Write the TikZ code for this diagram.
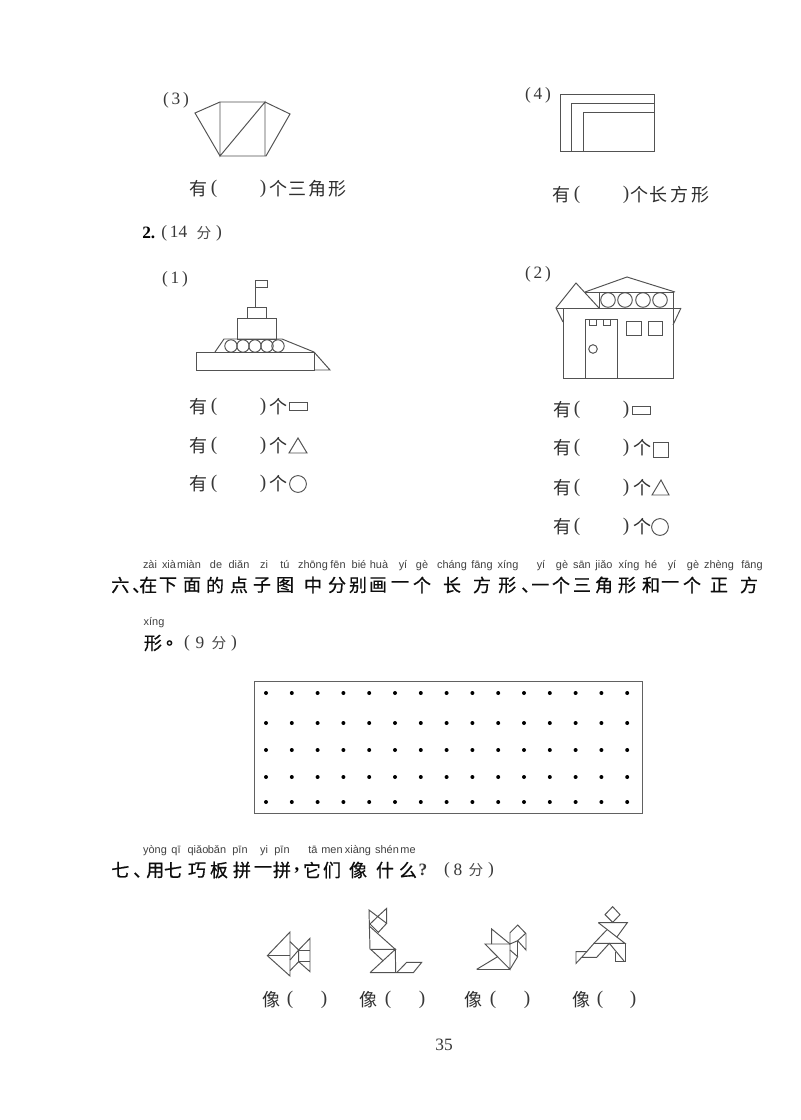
\documentclass[tikz,border=0pt]{standalone}
\usepackage{fontspec}
\setmainfont{Liberation Serif}
\newfontfamily\cjk{Noto Sans CJK SC}
\newfontfamily\cjkh[FakeBold=0.6]{Noto Sans CJK SC}
\newfontfamily\pyfont{Liberation Sans}
\tikzset{
  ln/.style={draw=black!68,line width=0.72pt,line join=miter},
  lab/.style={inner sep=0pt,text=black!82,font=\cjk\fontsize{13.5pt}{15pt}\selectfont},
  sm/.style={inner sep=0pt,text=black!70,font=\cjk\fontsize{11pt}{13pt}\selectfont},
  num/.style={inner sep=0pt,text=black!78,font=\fontsize{13pt}{15pt}\selectfont},
  par/.style={inner sep=0pt,text=black!78,font=\fontsize{14.5pt}{16pt}\selectfont},
  hd/.style={inner sep=0pt,text=black!95,font=\cjkh\fontsize{13.5pt}{15pt}\selectfont},
  py/.style={inner sep=0pt,text height=6pt,text depth=2pt,text=black!75,font=\pyfont\fontsize{8.2pt}{9pt}\selectfont},
  dotpt/.style={fill=black,draw=none}
}
% a row "有( )..." : name, x of 有, x of (, x of ), y
\newcommand{\youline}[5]{%
  \node[lab] (#1a) at (#2,#5) {有};
  \node[par] (#1b) at (#3,#5) {(};
  \node[par] (#1c) at (#4,#5) {)};
}
\begin{document}
\begin{tikzpicture}[x=0.75pt,y=-0.75pt]
\useasboundingbox (0,0) rectangle (800,1120);
\fill[white] (0,0) rectangle (800,1120);

% ---- figure (3)
\node[num] (l3) at (176,100) {(\,3\,)};
\draw[ln] (195,113) -- (220,102) -- (265,102) -- (290,114) -- (266,156) -- (220,156) -- cycle;
\draw[ln] (220,102) -- (220,156) -- (265,102) -- (265,156);
\youline{r3}{198}{214}{263}{189}
\foreach \x/\c [count=\i] in {278/个,297/三,317/角,337/形} \node[lab] (r3t\i) at (\x,189) {\c};

% ---- figure (4)
\node[num] (l4) at (538,95) {(\,4\,)};
\draw[ln] (560,94) rectangle (654,151);
\draw[ln] (571,151) -- (571,103) -- (654,103);
\draw[ln] (583,151) -- (583,112) -- (654,112);
\youline{r4}{561}{577}{626}{195}
\foreach \x/\c [count=\i] in {639/个,658/长,679/方,700/形} \node[lab] (r4t\i) at (\x,195) {\c};

% ---- 2.
\node[inner sep=0pt,text=black,font=\bfseries\fontsize{13pt}{15pt}\selectfont,anchor=west] (q2) at (142,233) {2.};
\node[num,anchor=west] (q2b) at (161,233) {(\,14};
\node[sm] (q2c) at (204,233) {分};
\node[num] (q2d) at (219,233) {)};

% ---- ship (1)
\node[num] (l1) at (175,279) {(\,1\,)};
\draw[ln] (196,352) rectangle (314,370);
\draw[ln] (314,352) -- (330,370) -- (314,370);
\draw[ln] (215,352) -- (224,339) -- (282,339) -- (314,352);
\draw[ln] (237,339) rectangle (276,318);
\draw[ln] (247,318) rectangle (266,307);
\draw[ln] (255,307) -- (255,280) -- (267,280) -- (267,287) -- (255,287);
\foreach \x in {231,243,255,267,278} \draw[ln] (\x,346) circle (6.2);
\foreach \y/\n in {407/a,446/b,484/c}{
  \youline{s\n}{198}{214}{263}{\y}
  \node[lab] (s\n g) at (278,\y) {个};
}
\draw[ln] (289,402) rectangle (307,410);
\draw[ln] (289,453) -- (307,453) -- (298,438) -- cycle;
\draw[ln] (298,484) circle (8.4);

% ---- house (2)
\node[num] (l2) at (538,274) {(\,2\,)};
\draw[ln] (563,308) rectangle (673,378);
\draw[ln] (556,308) -- (681,308);
\draw[ln] (563,322) -- (556,308) -- (576,283) -- (599,308);
\draw[ln] (673,325) -- (681,308);
\draw[ln] (585,292) -- (627,277) -- (675,292);
\draw[ln] (585,292) -- (673,292) -- (673,308);
\draw[ln] (599,292) -- (599,308);
\foreach \x in {608,625,643,660} \draw[ln] (\x,300) circle (7.3);
\draw[ln] (585,378) -- (585,319) -- (617,319) -- (617,378);
\draw[ln] (589,319) rectangle (596,325);
\draw[ln] (603,319) rectangle (610,325);
\draw[ln] (593,349) circle (4.3);
\draw[ln] (626,321) rectangle (641,335);
\draw[ln] (648,321) rectangle (662,335);
\youline{ha}{562}{577}{626}{410}
\foreach \y/\n in {448/b,488/c,527/d}{
  \youline{h\n}{562}{577}{626}{\y}
  \node[lab] (h\n g) at (642,\y) {个};
}
\draw[ln] (632,406) rectangle (650,414);
\draw[ln] (653,442) rectangle (668,457);
\draw[ln] (652,495) -- (669,495) -- (661,480) -- cycle;
\draw[ln] (660,527) circle (8.4);

% ---- section 6
\node[hd,anchor=west] (sixa) at (111,585) {六\kern2.25pt 、\kern-8.25pt 在};
\node[hd,anchor=west] (sixb) at (498,585) {形\kern3.75pt 、\kern-6pt 一};
\foreach \x/\c [count=\i] in {168/下,192/面,215/的,239/点,262/子,285/图,313/中,337/分,358/别,378/画,400/一,422/个,452/长,482/方,561/个,582/三,604/角,627/形,651/和,670/一,692/个,719/正,749/方}
  \node[hd] (six\i) at (\x,585) {\c};
\foreach \x/\c [count=\i] in {150/zài,169/xià,189/miàn,216/de,239/diǎn,264/zi,285/tú,313/zhōng,338/fēn,359/bié,379/huà,403/yí,422/gè,452/cháng,482/fāng,508/xíng,541/yí,562/gè,582/sān,604/jiǎo,629/xíng,651/hé,672/yí,693/gè,719/zhèng,752/fāng}
  \node[py] (sixp\i) at (\x,565.5) {\c};
\node[py] (sixq) at (154,623) {xíng};
\node[hd] (sixc) at (153,643) {形};
\node[hd] (sixd) at (175,643) {。};
\node[num] (sixe) at (187,643) {(};
\node[num] (sixh) at (200,643) {9};
\node[sm] (sixf) at (219,643) {分};
\node[num] (sixg) at (234,643) {)};

% ---- dot grid
\draw[draw=black!62,line width=0.7pt] (254,681) rectangle (642,813);
\foreach \y in {693,723,750,777,802}
  \foreach \i in {0,...,14}
    \fill[dotpt] ({266+25.8*\i},\y) circle (2);

% ---- section 7
\node[hd,anchor=west] (seva) at (111,870) {七\kern3pt 、\kern-3.75pt 用};
\foreach \x/\c [count=\i] in {173/七,197/巧,219/板,242/拼,263/一,282/拼,312/它,332/们,358/像,385/什,408/么}
  \node[hd] (sev\i) at (\x,870) {\c};
\node[inner sep=0pt,text=black,font=\bfseries\fontsize{14pt}{15pt}\selectfont] (sevb) at (297,871) {,};
\node[num,font=\bfseries\fontsize{13pt}{15pt}\selectfont] (sevc) at (423,870) {?};
\node[num] (sevd) at (447,870) {(};
\node[num] (sevg) at (458,870) {8};
\node[sm] (seve) at (476,870) {分};
\node[num] (sevf) at (491,870) {)};
\foreach \x/\c [count=\i] in {155/yòng,176/qī,198/qiǎo,217/bǎn,240/pīn,264/yi,282/pīn,313/tā,332/men,358/xiàng,387/shén,408/me}
  \node[py] (sevp\i) at (\x,850.5) {\c};

% ---- tangram fish and fox
\begin{scope}[shift={(250,900)},scale=1/3]
\draw[ln] (52,167) -- (120,96) -- (120,228) -- cycle;
\draw[ln] (52,167) -- (120,167);
\draw[ln] (120,125) -- (146,150) -- (120,180);
\draw[ln] (120,212) -- (146,185) -- (180,215) -- (180,115) -- (146,150) -- (146,185);
\draw[ln] (146,150) -- (180,150);
\draw[ln] (146,185) -- (180,185);
% fox
\draw[ln] (360,148) -- (357,30) -- (410,70) -- (385,97) -- (360,72) -- (385,48) -- (410,25) -- (410,70);
\draw[ln] (360,80) -- (436,148) -- (362,148) -- (400,183);
\draw[ln] (360,218) -- (436,148) -- (437,218);
\draw[ln] (360,218) -- (440,218) -- (470,187) -- (515,187) -- (490,218) -- cycle;
\end{scope}
% ---- bird and runner
\begin{scope}[shift={(450,900)},scale=1/3]
\draw[ln] (125,132) -- (125,87) -- (180,132);
\draw[ln] (105,132) -- (180,132) -- (180,208) -- cycle;
\draw[ln] (80,208) -- (180,208);
\draw[ln] (80,208) -- (143,170);
\draw[ln] (180,150) -- (203,170) -- (180,208);
\draw[ln] (203,170) -- (203,122);
\draw[ln] (180,132) -- (180,98) -- (203,75) -- (227,100) -- (203,122) -- cycle;
\draw[ln] (203,122) -- (228,150) -- (228,100);
% runner
\draw[ln] (488,20) -- (510,44) -- (488,67) -- (465,44) -- cycle;
\draw[ln] (445,68) -- (532,68) -- (500,112);
\draw[ln] (445,68) -- (525,130) -- (432,130) -- (395,172) -- (440,172) -- (478,130) -- (522,183);
\draw[ln] (470,90) -- (432,130);
\draw[ln] (395,172) -- (378,190) -- (378,155) -- (412,155);
\draw[ln] (525,130) -- (525,183) -- (497,183) -- (497,155);
\end{scope}
\foreach \a/\b/\c/\n in {271/290/324/a,368/388/422/b,473/493/527/c,581/600/633/d}{
  \node[lab] (x\n) at (\a,1000) {像};
  \node[par] (y\n) at (\b,1000) {(};
  \node[par] (z\n) at (\c,1000) {)};
}
\node[num] (pg) at (444,1045) {35};
\end{tikzpicture}
\end{document}
